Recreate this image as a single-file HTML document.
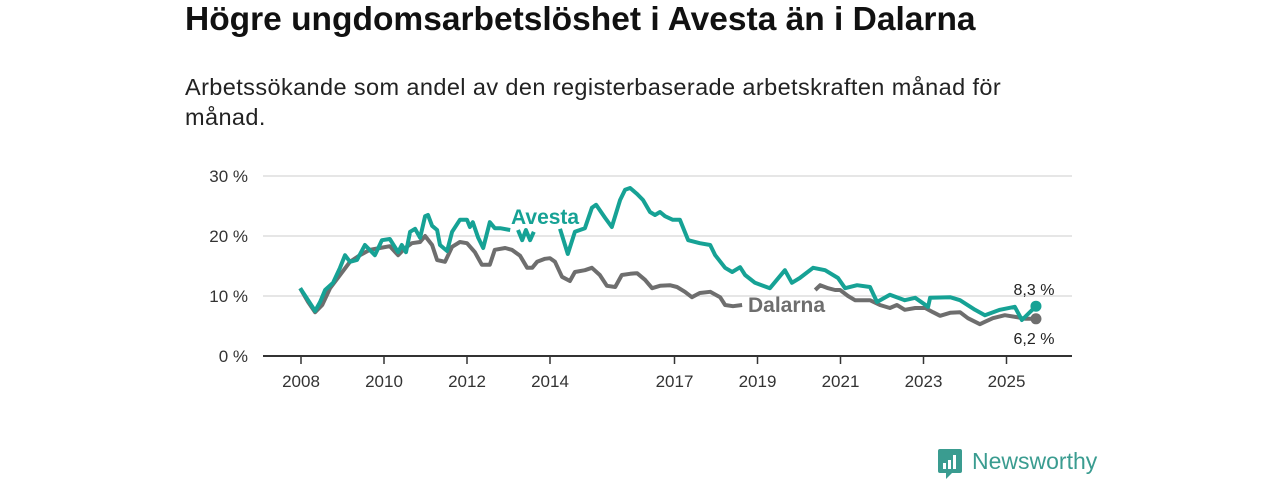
<!DOCTYPE html>
<html><head><meta charset="utf-8">
<style>
body{margin:0;background:#fff;font-family:"Liberation Sans","DejaVu Sans",sans-serif;}
.wrap{position:relative;width:1280px;height:480px;overflow:hidden;}
h1{position:absolute;left:185px;top:1px;margin:0;font-size:33.5px;font-weight:bold;color:#111;letter-spacing:0px;white-space:nowrap}
.sub{position:absolute;left:185px;top:72px;width:880px;margin:0;font-size:23.5px;letter-spacing:0.4px;line-height:30px;color:#222}
svg{position:absolute;left:0;top:0}
</style></head><body>
<div class="wrap">
<svg id="chart" width="1280" height="480"></svg>
<h1>Högre ungdomsarbetslöshet i Avesta än i Dalarna</h1>
<p class="sub">Arbetssökande som andel av den registerbaserade arbetskraften månad för<br>månad.</p>
<div style="position:absolute;left:938px;top:449px;height:30px;">
<svg width="26" height="30" style="position:absolute;left:0;top:0"><path d="M0 2 Q0 0 2 0 H22 Q24 0 24 2 V22 Q24 24 22 24 H14 L8 30 V24 H2 Q0 24 0 22Z" fill="#3a9c90"/><rect x="5" y="14" width="3" height="6" fill="#fff"/><rect x="10" y="11" width="3" height="9" fill="#fff"/><rect x="15" y="6" width="3" height="14" fill="#fff"/></svg>
<span style="position:absolute;left:34px;top:-1px;font-size:23px;color:#3a9c90;white-space:nowrap">Newsworthy</span>
</div>
</div>
<script>
const yTicks=[0,10,20,30];
const yTickLabels=["0 %","10 %","20 %","30 %"];
const xTicks=[2008,2010,2012,2014,2017,2019,2021,2023,2025];
const avestaDates=[2007.98,2008.17,2008.34,2008.46,2008.58,2008.77,2008.94,2009.06,2009.18,2009.35,2009.54,2009.78,2009.95,2010.14,2010.34,2010.43,2010.53,2010.63,2010.75,2010.87,2010.99,2011.06,2011.16,2011.28,2011.35,2011.52,2011.64,2011.83,2012.00,2012.07,2012.14,2012.27,2012.39,2012.55,2012.67,2012.80,2013.04,2013.13,2013.23,2013.33,2013.42,2013.52,2013.61,2013.9,2014.24,2014.43,2014.60,2014.84,2015.01,2015.11,2015.33,2015.49,2015.69,2015.81,2015.93,2016.10,2016.24,2016.41,2016.53,2016.65,2016.77,2016.96,2017.13,2017.33,2017.61,2017.86,2017.98,2018.22,2018.39,2018.58,2018.70,2018.94,2019.30,2019.66,2019.83,2020.02,2020.34,2020.63,2020.94,2021.11,2021.40,2021.71,2021.88,2022.19,2022.55,2022.80,2023.11,2023.16,2023.64,2023.88,2024.24,2024.48,2024.84,2025.20,2025.37,2025.71];
const avestaValues=[11.3,9.3,7.5,9.0,11.0,12.2,14.7,16.8,15.7,16.0,18.5,16.8,19.3,19.5,17.3,18.5,17.3,20.7,21.2,19.7,23.3,23.5,21.7,21.0,18.5,17.5,20.7,22.7,22.7,21.5,22.3,19.7,18.0,22.3,21.3,21.3,21.0,null,21.0,19.3,21.0,19.3,20.7,null,21.2,17.0,20.7,21.3,24.7,25.2,23.0,21.5,26.0,27.7,28.0,27.0,26.0,24.0,23.5,24.0,23.3,22.7,22.7,19.3,18.8,18.5,16.8,14.7,14.0,14.8,13.5,12.2,11.3,14.3,12.2,13.0,14.7,14.3,13.0,11.3,11.8,11.5,9.0,10.2,9.3,9.7,8.2,9.7,9.8,9.3,7.7,6.8,7.7,8.2,6.0,8.3];
const dalarnaDates=[2007.98,2008.17,2008.34,2008.51,2008.70,2008.94,2009.18,2009.42,2009.66,2009.90,2010.14,2010.34,2010.51,2010.67,2010.87,2010.99,2011.16,2011.28,2011.47,2011.64,2011.83,2012.00,2012.19,2012.36,2012.55,2012.67,2012.92,2013.08,2013.28,2013.45,2013.57,2013.69,2013.88,2014.00,2014.12,2014.29,2014.48,2014.60,2014.84,2015.01,2015.20,2015.37,2015.57,2015.73,2015.93,2016.10,2016.29,2016.46,2016.65,2016.89,2017.06,2017.25,2017.42,2017.61,2017.86,2018.10,2018.22,2018.41,2018.63,2019.5,2020.39,2020.51,2020.70,2020.87,2020.99,2021.18,2021.35,2021.71,2021.95,2022.19,2022.36,2022.55,2022.80,2023.04,2023.23,2023.40,2023.64,2023.88,2024.07,2024.36,2024.48,2024.67,2024.96,2025.23,2025.45,2025.71];
const dalarnaValues=[11.3,9.0,7.3,8.5,11.3,13.5,15.7,16.8,17.7,18.0,18.3,16.8,18.0,18.8,19.0,20.0,18.5,16.0,15.7,18.2,19.0,18.8,17.3,15.2,15.2,17.7,18.0,17.7,16.7,14.7,14.7,15.7,16.2,16.3,15.7,13.2,12.5,14.0,14.3,14.7,13.5,11.7,11.5,13.5,13.7,13.8,12.7,11.3,11.7,11.8,11.5,10.7,9.8,10.5,10.7,9.8,8.5,8.3,8.5,null,11.0,11.8,11.3,11.0,11.0,10.0,9.3,9.3,8.5,8.0,8.5,7.7,8.0,8.0,7.3,6.7,7.2,7.3,6.3,5.3,5.7,6.3,6.8,6.5,6.2,6.2];

const svg=document.getElementById('chart');
const NS='http://www.w3.org/2000/svg';
const X=y=>301+(y-2008)*41.5;
const Y=v=>356-v*6;
function mk(tag,attrs){const e=document.createElementNS(NS,tag);for(const k in attrs)e.setAttribute(k,attrs[k]);svg.appendChild(e);return e;}
yTicks.forEach((t,i)=>{
  const g=mk('line',{x1:263,x2:1072,y1:Y(t),y2:Y(t),stroke:t===0?'#333':'#d6d6d6','stroke-width':t===0?2:1.2});
  
  
  const l=mk('text',{x:248,y:Y(t)+6,'text-anchor':'end','font-size':17,fill:'#333','font-family':'Liberation Sans, sans-serif'});
  l.textContent=yTickLabels[i];
  
  
});
xTicks.forEach(t=>{
  const tk=mk('line',{x1:X(t),x2:X(t),y1:357,y2:364,stroke:'#333','stroke-width':1.5});
  
  
  const l=mk('text',{x:X(t),y:387,'text-anchor':'middle','font-size':17,fill:'#333','font-family':'Liberation Sans, sans-serif'});
  l.textContent=t;
  
  
});
function path(dates,vals){let d='',pen=false;dates.forEach((t,i)=>{const v=vals[i];if(v===null){pen=false;return;}d+=(pen?'L':'M')+X(t).toFixed(1)+' '+Y(v).toFixed(1);pen=true;});return d;}
const dl=mk('path',{d:path(dalarnaDates,dalarnaValues),fill:'none',stroke:'#6e6e6e','stroke-width':4,'stroke-linejoin':'round'});


const al=mk('path',{d:path(avestaDates,avestaValues),fill:'none',stroke:'#16a295','stroke-width':4,'stroke-linejoin':'round'});


const dLast=dalarnaValues.length-1, aLast=avestaValues.length-1;
const dd=mk('circle',{cx:X(dalarnaDates[dLast]),cy:Y(dalarnaValues[dLast]),r:5.5,fill:'#6e6e6e'});


const ad=mk('circle',{cx:X(avestaDates[aLast]),cy:Y(avestaValues[aLast]),r:5.5,fill:'#16a295'});


const av=mk('text',{x:X(avestaDates[aLast])-2,y:Y(avestaValues[aLast])-11,'text-anchor':'middle','font-size':16,fill:'#222','font-family':'Liberation Sans, sans-serif'});
av.textContent=String(avestaValues[aLast]).replace('.',',')+' %';


const dv=mk('text',{x:X(dalarnaDates[dLast])-2,y:Y(dalarnaValues[dLast])+25,'text-anchor':'middle','font-size':16,fill:'#222','font-family':'Liberation Sans, sans-serif'});
dv.textContent=String(dalarnaValues[dLast]).replace('.',',')+' %';


const an=mk('text',{x:511,y:224,'font-size':21,'font-weight':'bold',fill:'#16a295','font-family':'Liberation Sans, sans-serif'});
an.textContent='Avesta';


const dn=mk('text',{x:748,y:312,'font-size':21,'font-weight':'bold',fill:'#6e6e6e','font-family':'Liberation Sans, sans-serif'});
dn.textContent='Dalarna';


</script>
</body></html>
